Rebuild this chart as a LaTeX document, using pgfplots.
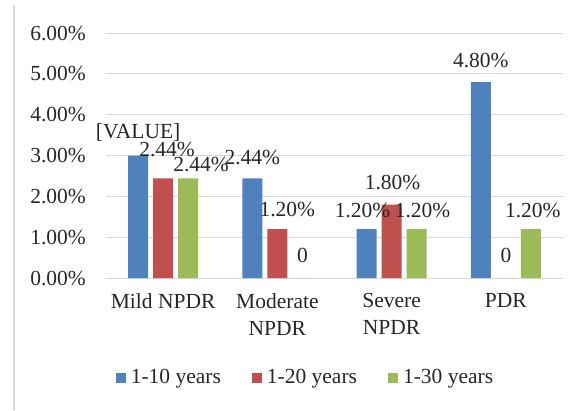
\documentclass[border=0pt]{standalone}
\usepackage{fontspec}
\setmainfont{Liberation Serif}
\usepackage{pgfplots}
\usepackage{pgfplotstable}
\pgfplotsset{compat=1.18}
\definecolor{cblue}{HTML}{4F81BD}
\definecolor{cred}{HTML}{C0504D}
\definecolor{cgreen}{HTML}{9BBB59}
\definecolor{gridc}{HTML}{D9D9D9}
\definecolor{txt}{HTML}{262626}
\newcommand\lf{\fontsize{21.5bp}{27bp}\selectfont}

\pgfplotstableread{
x y lab dx dy
0 3.00 [VALUE] 0 23
1 2.44 2.44\% 0 21
2 1.20 1.20\% -4 19
3 4.80 4.80\% 0 22
}\tblue
\pgfplotstableread{
x y lab dx dy
0 2.44 2.44\% 4 29
1 1.20 1.20\% 10 20
2 1.80 1.80\% 1 22
3 0 0 0 23
}\tred
\pgfplotstableread{
x y lab dx dy
0 2.44 2.44\% 13 14
1 0 0 0 23
2 1.20 1.20\% 6 19
3 1.20 1.20\% 2 19
}\tgreen

\begin{document}
\lf
\begin{tikzpicture}[x=1bp,y=1bp]
\useasboundingbox (0,0) rectangle (584,410);
\draw[gridc, line width=1.5bp] (14,0) -- (14,405);
\begin{axis}[
  at={(106bp,132bp)}, anchor=south west,
  scale only axis, width=457bp, height=245bp,
  ymin=0, ymax=6, ytick={0,1,...,6},
  xmin=-0.5, xmax=3.5, xtick={0,1,2,3},
  xticklabels={Mild NPDR, Moderate\\NPDR, Severe\\NPDR, PDR},
  axis line style={draw=none}, major tick length=0pt,
  ymajorgrids, grid style={gridc, line width=1bp},
  /pgf/number format/assume math mode=true,
  yticklabel={\pgfmathprintnumber[fixed,fixed zerofill,precision=2]{\tick}\%},
  yticklabel style={font=\lf, text=txt, inner sep=0pt, anchor=east, xshift=-20bp},
  xticklabel style={font=\lf, text=txt, inner sep=0pt, align=center, anchor=north, yshift=-15bp},
  ybar=5bp, bar width=20bp,
  point meta=explicit symbolic,
  nodes near coords={\pgfplotspointmeta},
  visualization depends on={\thisrow{dx} \as \dx},
  visualization depends on={\thisrow{dy} \as \dy},
  every node near coord/.append style={font=\lf, text=txt, anchor=center, inner sep=0pt, xshift=\dx*1bp, yshift=\dy*1bp},
  legend columns=3,
  legend image code/.code={\fill[#1] (0bp,-5bp) rectangle (10bp,5bp);},
  legend style={draw=none, fill=none, font=\lf, text=txt,
    at={(axis description cs:0.4365,-0.408)}, anchor=center,
    /tikz/every odd column/.append style={column sep=3bp},
    /tikz/every even column/.append style={column sep=29bp}},
]
\addplot[fill=cblue, draw=none] table[x=x, y=y, meta=lab] {\tblue};
\addplot[fill=cred, draw=none] table[x=x, y=y, meta=lab] {\tred};
\addplot[fill=cgreen, draw=none] table[x=x, y=y, meta=lab] {\tgreen};
\legend{1-10 years, 1-20 years, 1-30 years}
\end{axis}
\end{tikzpicture}
\end{document}
